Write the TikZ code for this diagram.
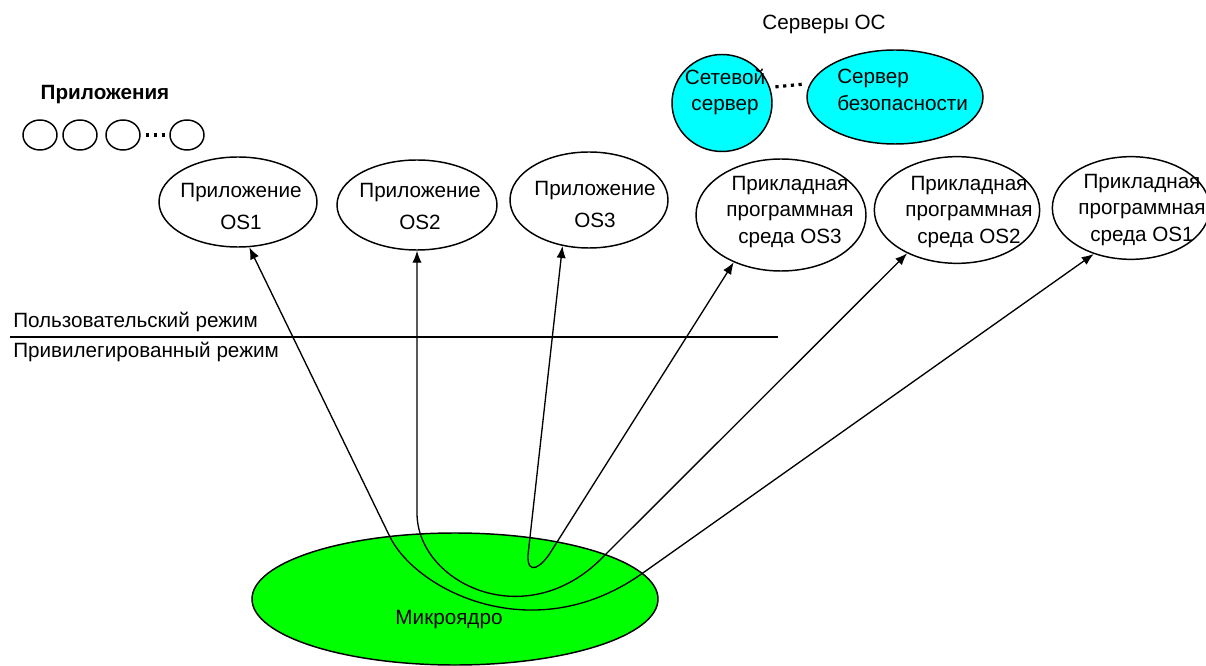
\documentclass[tikz,border=0pt]{standalone}
\usepackage{fontspec}
\setmainfont{Liberation Sans}
\usetikzlibrary{shapes.geometric,arrows.meta}

\definecolor{srvcyan}{RGB}{0,255,255}
\definecolor{coregreen}{RGB}{0,255,0}

\begin{document}
\begin{tikzpicture}[
        x=0.75pt, y=-0.75pt,
        oval/.style={draw, ellipse, line width=1.1pt, inner sep=0pt, fill=white},
        srv/.style={oval, fill=srvcyan},
        txt/.style={inner sep=0pt, align=center, font=\fontsize{15.5}{20}\selectfont},
        mode/.style={inner sep=0pt, anchor=base west, font=\fontsize{15.5}{20}\selectfont},
        link/.style={line width=1pt, {Latex[length=9pt,width=7pt]}-{Latex[length=9pt,width=7pt]}},
        dots/.style={line width=2.4pt, dash pattern=on 2.4pt off 3.4pt, shorten <=4pt, shorten >=3pt}
    ]
    \useasboundingbox (0,0) rectangle (1206,666);

    % applications (left)
    \node[txt, font=\fontsize{15.5}{20}\selectfont\bfseries] (appstitle) at (105,95) {Приложения};
    \foreach \n/\x in {a/40, b/80, c/123, d/187}
        \node[oval, minimum width=25.5pt, minimum height=22.5pt] (small\n) at (\x,135) {};
    \draw[dots] (smallc) -- (smalld);

    % OS servers
    \node[txt] (srvtitle) at (824,24) {Серверы ОС};
    \node[srv, minimum width=75pt, minimum height=72.75pt] (net) at (722,103) {};
    \node[srv, minimum width=132pt, minimum height=70.5pt] (sec) at (895,97) {};
    \node[txt] (netlbl) at (725,92) {Сетевой\\сервер};
    \node[txt, align=left, anchor=west] (seclbl) at (837,90) {Сервер\\безопасности};
    \draw[dots] (net.18) -- (sec.171);

    % OS applications
    \node[oval, minimum width=118.5pt, minimum height=67.5pt] (os1app) at (238,202) {};
    \node[oval, minimum width=120pt, minimum height=67.5pt] (os2app) at (417,205) {};
    \node[oval, minimum width=118.5pt, minimum height=72pt] (os3app) at (589,200) {};
    \node[txt] (os1lbl) at (241,206) {Приложение\\[4pt]OS1};
    \node[txt] (os2lbl) at (420,206) {Приложение\\[4pt]OS2};
    \node[txt] (os3lbl) at (595,204) {Приложение\\[4pt]OS3};

    % application environments
    \node[oval, minimum width=127.5pt, minimum height=84pt] (env3) at (781,215) {};
    \node[oval, minimum width=124pt, minimum height=80pt] (env2) at (957,210) {};
    \node[oval, minimum width=118pt, minimum height=77pt] (env1) at (1131,208) {};
    \node[txt] (env3lbl) at (790,212) {Прикладная\\программная\\среда OS3};
    \node[txt] (env2lbl) at (969,212) {Прикладная\\программная\\среда OS2};
    \node[txt] (env1lbl) at (1142,210) {Прикладная\\программная\\среда OS1};

    % user / privileged border
    \coordinate (bleft) at (10,337);
    \coordinate (bright) at (778,337);
    \draw[line width=2pt] (bleft) -- (bright);
    \node[mode] (usermode) at (13,328) {Пользовательский режим};
    \node[mode] (privmode) at (13,358) {Привилегированный режим};

    % microkernel
    \node[oval, fill=coregreen, minimum width=304.5pt, minimum height=99pt] (core) at (455,599) {};
    \node[txt] (corelbl) at (449,620) {Микроядро};

    % paths through the microkernel
    \coordinate (pa1) at (390,537);
    \coordinate (pa2) at (640,575);
    \coordinate (pb1) at (417,513);
    \coordinate (pb2) at (603,557);
    \coordinate (pc1) at (528,555);
    \coordinate (pc2) at (552,550);
    \draw[link] (os1app.284) -- (pa1) .. controls (417,591) and (533,649) .. (pa2) -- (env1.231);
    \draw[link] (os2app.south) -- (pb1) .. controls (417,583) and (526,636) .. (pb2) -- (env2.221);
    \draw[link] (os3app.240) -- (pc1) .. controls (527,577) and (542,567) .. (pc2) -- (env3.225);

\end{tikzpicture}
\end{document}
